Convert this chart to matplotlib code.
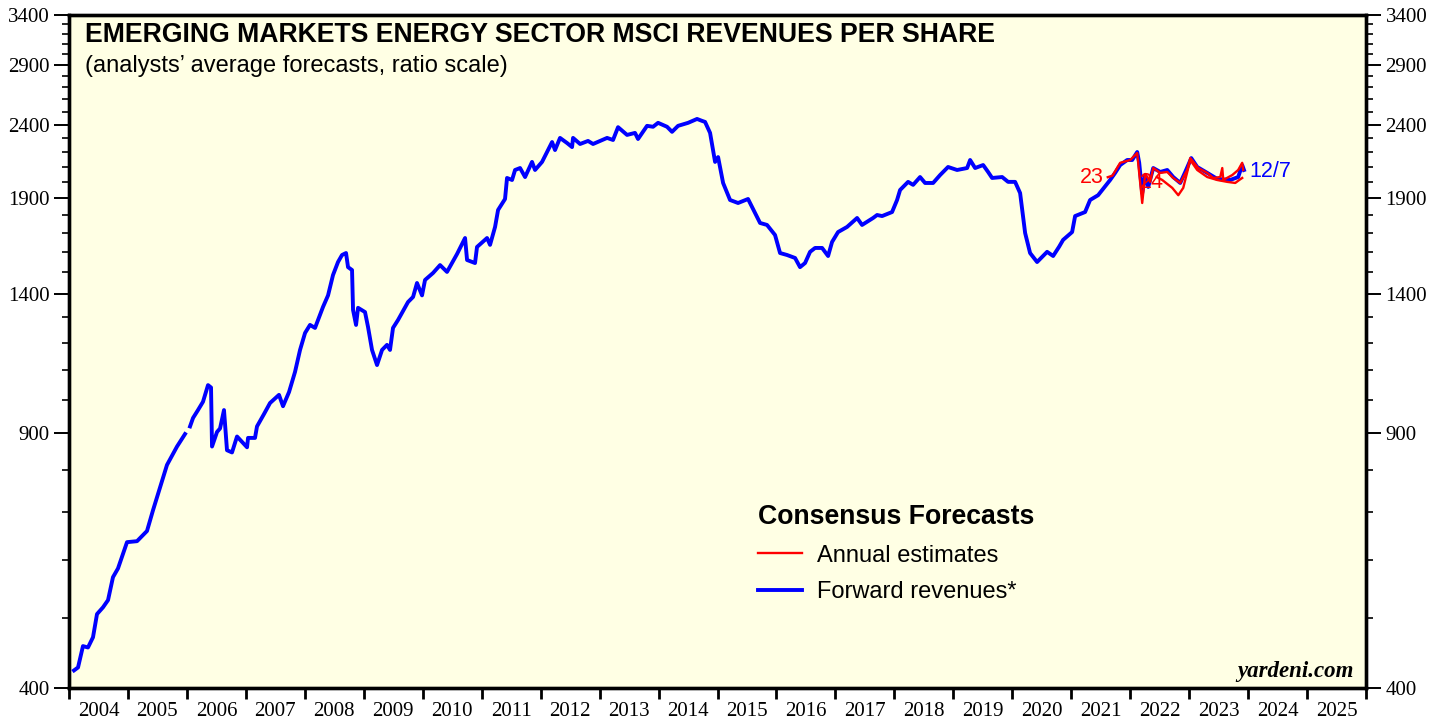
import numpy as np
import matplotlib
matplotlib.use('Agg')
import matplotlib.pyplot as plt
from matplotlib.lines import Line2D
from matplotlib.ticker import FixedLocator, FixedFormatter, NullFormatter

# ---------------------------------------------------------------------
# Emerging markets energy sector MSCI revenues per share (ratio scale)
# ---------------------------------------------------------------------

fwd_dates = [2004.085, 2004.153, 2004.237, 2004.322, 2004.407, 2004.475, 2004.577, 2004.662,
             2004.746, 2004.831, 2004.984, 2005.154, 2005.323, 2005.425, 2005.544, 2005.662,
             2005.832, 2005.968, 2006.010, 2006.053, 2006.104, 2006.188, 2006.273, 2006.358,
             2006.409, 2006.426, 2006.511, 2006.562, 2006.629, 2006.680, 2006.765, 2006.850,
             2006.935, 2007.020, 2007.037, 2007.155, 2007.189, 2007.308, 2007.410, 2007.562,
             2007.630, 2007.732, 2007.834, 2007.919, 2008.004, 2008.088, 2008.173, 2008.258,
             2008.309, 2008.394, 2008.478, 2008.563, 2008.631, 2008.699, 2008.733, 2008.801,
             2008.818, 2008.869, 2008.903, 2009.021, 2009.072, 2009.140, 2009.225, 2009.310,
             2009.394, 2009.445, 2009.496, 2009.581, 2009.751, 2009.836, 2009.903, 2009.988,
             2010.039, 2010.175, 2010.294, 2010.412, 2010.582, 2010.684, 2010.718, 2010.752,
             2010.887, 2010.921, 2011.091, 2011.142, 2011.227, 2011.278, 2011.396, 2011.430,
             2011.515, 2011.566, 2011.651, 2011.736, 2011.854, 2011.905, 2012.024, 2012.109,
             2012.194, 2012.244, 2012.329, 2012.448, 2012.533, 2012.550, 2012.669, 2012.804,
             2012.889, 2013.127, 2013.228, 2013.313, 2013.466, 2013.601, 2013.652, 2013.805,
             2013.907, 2013.992, 2014.144, 2014.229, 2014.331, 2014.501, 2014.653, 2014.738,
             2014.789, 2014.874, 2014.925, 2014.959, 2015.010, 2015.095, 2015.213, 2015.349,
             2015.518, 2015.637, 2015.722, 2015.840, 2015.976, 2016.061, 2016.180, 2016.316,
             2016.400, 2016.485, 2016.570, 2016.655, 2016.774, 2016.876, 2016.943, 2017.045,
             2017.198, 2017.368, 2017.452, 2017.639, 2017.707, 2017.792, 2017.961, 2018.046,
             2018.097, 2018.233, 2018.318, 2018.436, 2018.521, 2018.657, 2018.776, 2018.911,
             2019.064, 2019.234, 2019.285, 2019.370, 2019.506, 2019.590, 2019.658, 2019.828,
             2019.929, 2020.048, 2020.133, 2020.218, 2020.302, 2020.421, 2020.591, 2020.693,
             2020.794, 2020.862, 2021.015, 2021.066, 2021.235, 2021.320, 2021.456, 2021.660,
             2021.745, 2021.830, 2021.949, 2022.034, 2022.119, 2022.153, 2022.204, 2022.255,
             2022.306, 2022.391, 2022.510, 2022.629, 2022.730, 2022.849, 2022.934, 2023.036,
             2023.137, 2023.307, 2023.476, 2023.697, 2023.832, 2023.900, 2023.930]
fwd_values = [423, 427, 457, 455, 470, 506, 517, 529,
              569, 585, 636, 638, 659, 704, 757, 813,
              862, 897, np.nan, 919, 944, 968, 994, 1048,
              1040, 862, 903, 913, 968, 852, 846, 890,
              875, 860, 886, 886, 919, 956, 990, 1016,
              980, 1025, 1093, 1172, 1237, 1269, 1257, 1310,
              1344, 1394, 1487, 1550, 1585, 1595, 1525, 1511,
              1331, 1269, 1340, 1322, 1261, 1172, 1117, 1172,
              1191, 1172, 1257, 1289, 1365, 1387, 1450, 1394,
              1464, 1497, 1535, 1502, 1590, 1652, 1673, 1560,
              1545, 1626, 1673, 1637, 1733, 1829, 1894, 2025,
              2012, 2077, 2090, 2031, 2131, 2077, 2131, 2199,
              2270, 2213, 2300, 2263, 2234, 2300, 2256, 2278,
              2256, 2300, 2285, 2380, 2322, 2337, 2292, 2390,
              2383, 2413, 2383, 2345, 2390, 2413, 2443, 2428,
              2420, 2337, 2213, 2131, 2164, 1993, 1888, 1870,
              1894, 1811, 1755, 1744, 1689, 1595, 1585, 1570,
              1525, 1545, 1601, 1621, 1621, 1580, 1652, 1705,
              1733, 1783, 1744, 1783, 1800, 1794, 1817, 1888,
              1949, 2000, 1981, 2031, 1993, 1993, 2044, 2097,
              2077, 2090, 2144, 2090, 2110, 2064, 2025, 2031,
              2000, 2000, 1930, 1700, 1595, 1550, 1601, 1580,
              1627, 1663, 1705, 1794, 1817, 1888, 1917, 2012,
              2058, 2110, 2144, 2144, 2199, 2125, 1930, 2044,
              1968, 2090, 2064, 2077, 2031, 1993, 2064, 2157,
              2097, 2058, 2019, 2012, 2031, 2110, 2077]

# annual estimates for 2023 and 2024
est23_dates = [2021.620, 2021.700, 2021.830, 2022.000, 2022.119, 2022.204, 2022.255, 2022.340,
               2022.391, 2022.510, 2022.629, 2022.730, 2022.849, 2022.967, 2023.019, 2023.154,
               2023.307, 2023.409, 2023.528, 2023.562, 2023.579, 2023.732, 2023.832, 2023.900,
               2023.917]
est23_values = [2030, 2040, 2125, 2144, 2192, 1870, 2051, 2000,
                2090, 2058, 2064, 2025, 1993, 2077, 2157, 2090,
                2058, 2025, 2031, 2090, 2012, 2044, 2077, 2125,
                2077]

est24_dates = [2022.450, 2022.544, 2022.714, 2022.816, 2022.900, 2023.019, 2023.137, 2023.307,
               2023.476, 2023.646, 2023.782, 2023.850, 2023.900]
est24_values = [2031, 2012, 1962, 1917, 1962, 2144, 2077, 2031,
                2012, 2000, 1993, 2012, 2025]

years = list(range(2004, 2026))
y_major = [400, 900, 1400, 1900, 2400, 2900, 3400]
y_minor = list(range(400, 3401, 100))

bg = '#FFFFE4'
serif = 'Liberation Serif'
sans = 'Liberation Sans'

W, H = 1446, 719
fig = plt.figure(figsize=(W / 100, H / 100), dpi=100)
ax = fig.add_axes([69 / W, 1 - 688 / H, (1366 - 69) / W, (688 - 15) / H])
ax.set_facecolor(bg)

ax.plot(est23_dates, est23_values, color='#FF0000', lw=1.7, zorder=4)
ax.plot(est24_dates, est24_values, color='#FF0000', lw=1.7, zorder=4)
ax.plot(fwd_dates, fwd_values, color='#0000FF', lw=2.8, zorder=3)

ax.set_yscale('log')
ax.set_ylim(400, 3400)
ax.set_xlim(2004, 2026)

# y ticks on both sides
def style_y(a):
    a.yaxis.set_major_locator(FixedLocator(y_major))
    a.yaxis.set_major_formatter(FixedFormatter([str(v) for v in y_major]))
    a.yaxis.set_minor_locator(FixedLocator(y_minor))
    a.yaxis.set_minor_formatter(NullFormatter())
    a.tick_params(axis='y', which='major', direction='out', length=11, width=1.4,
                  labelsize=15, pad=3)
    a.tick_params(axis='y', which='minor', direction='out', length=5, width=1.2)
    for lab in a.get_yticklabels():
        lab.set_fontfamily(serif)

style_y(ax)
ax2 = ax.twinx()
ax2.set_yscale('log')
ax2.set_ylim(400, 3400)
style_y(ax2)

# year ticks on boundaries, labels centred between them
ax.xaxis.set_major_locator(FixedLocator(years + [2026]))
ax.xaxis.set_major_formatter(NullFormatter())
ax.xaxis.set_minor_locator(FixedLocator([y + 0.5 for y in years]))
ax.xaxis.set_minor_formatter(FixedFormatter([str(y) for y in years]))
ax.tick_params(axis='x', which='major', direction='out', length=8, width=2)
ax.tick_params(axis='x', which='minor', length=0, labelsize=15, pad=10)
for lab in ax.get_xticklabels(minor=True):
    lab.set_fontfamily(serif)

for a in (ax, ax2):
    for s in a.spines.values():
        s.set_linewidth(2.4)

# titles
fig.text(85 / W, 1 - 35 / H, 'EMERGING MARKETS ENERGY SECTOR MSCI REVENUES PER SHARE',
         fontsize=19.2, fontweight='bold', family=sans, va='center', ha='left')
fig.text(85 / W, 1 - 66 / H, '(analysts\u2019 average forecasts, ratio scale)',
         fontsize=17, family=sans, va='center', ha='left')

# line labels
ax.text(2021.56, 2025, '23', color='#FF0000', fontsize=15.5, family=sans, ha='right', va='center')
ax.text(2022.37, 1995, '24', color='#FF0000', fontsize=15.5, family=sans, ha='center', va='center')
ax.text(2024.03, 2064, '12/7', color='#0000FF', fontsize=15.5, family=sans, ha='left', va='center')

# legend
h1 = Line2D([], [], color='#FF0000', lw=1.7)
h2 = Line2D([], [], color='#0000FF', lw=2.8)
leg = ax2.legend([h1, h2], ['Annual estimates', 'Forward revenues*'],
                 title='Consensus Forecasts', loc='upper left',
                 bbox_to_anchor=(758 / W, 1 - 504 / H), bbox_transform=fig.transFigure,
                 frameon=False, handlelength=1.85, handletextpad=0.65,
                 labelspacing=0.62, borderpad=0, borderaxespad=0, alignment='left',
                 prop={'family': sans, 'size': 17})
leg.get_title().set_fontweight('bold')
leg.get_title().set_fontsize(19.2)
leg.get_title().set_fontfamily(sans)

fig.text(1354 / W, 1 - 672 / H, 'yardeni.com', fontsize=16.5, family=serif,
         fontweight='bold', style='italic', ha='right', va='center')

fig.savefig('out.png', dpi=100, facecolor='white')
